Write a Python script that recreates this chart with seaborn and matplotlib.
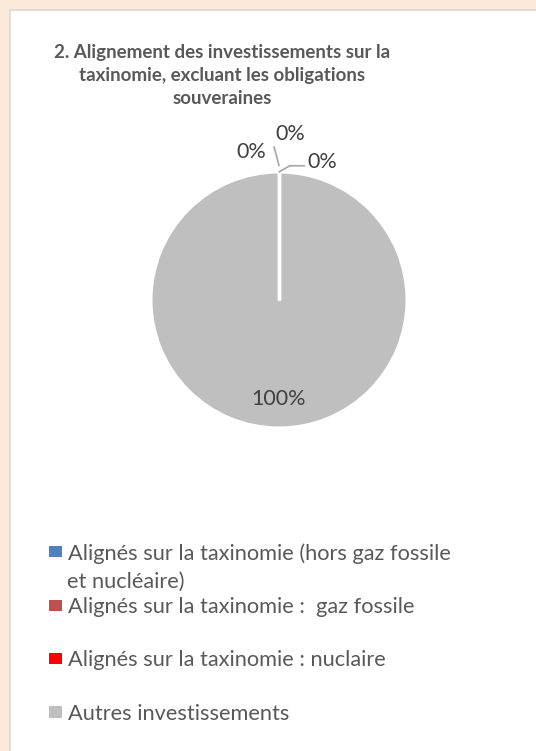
import matplotlib
matplotlib.use("Agg")
import matplotlib.pyplot as plt
import numpy as np
import seaborn as sns
from matplotlib.patches import Patch, Rectangle

# Data
categories = [
    "Alignés sur la taxinomie (hors gaz fossile",
    "Alignés sur la taxinomie :  gaz fossile",
    "Alignés sur la taxinomie : nuclaire",
    "Autres investissements",
]
values = [0, 0, 0, 100]
pct_labels = ["0%", "0%", "0%", "100%"]
colors = ["#4F81BD", "#C0504D", "#FF0000", "#BFBFBF"]
title = "2. Alignement des investissements sur la\ntaxinomie, excluant les obligations\nsouveraines"

sns.set_theme(style="white")
plt.rcParams["font.family"] = ["Lato", "DejaVu Sans"]
text_col = "#595959"

W, H = 536, 751
fig = plt.figure(figsize=(W / 100, H / 100), dpi=100)
fig.patch.set_facecolor("#FBE9D9")

# white panel
fig.patches.append(Rectangle((10 / W, -0.01), 1.0, 1 - 10 / H + 0.01,
                             transform=fig.transFigure, facecolor="white",
                             edgecolor="#D9D9D9", linewidth=1.2, zorder=-5))

fig.text(222 / W, 1 - 44 / H, title, ha="center", va="top", fontsize=13.5,
         fontweight="bold", color=text_col, linespacing=1.42)

# pie axes: centre (279, 300), radius 128 px
r = 128
lim = 1.6
side = 2 * lim * r
ax = fig.add_axes([(279 - side / 2) / W, (H - 300 - side / 2) / H, side / W, side / H])
wedges, _ = ax.pie(values, colors=colors, startangle=90, counterclock=False,
                   wedgeprops=dict(edgecolor="white", linewidth=2.2))
# zero-size slices only show as their white border
for w, v in zip(wedges, values):
    if v == 0:
        t = np.deg2rad(w.theta1)
        ax.plot([0, w.r * np.cos(t)], [0, w.r * np.sin(t)], color="white",
                lw=2.4, solid_capstyle="butt", zorder=3)
ax.set_xlim(-lim, lim)
ax.set_ylim(-lim, lim)
ax.axis("off")

lbl_kw = dict(fontsize=15.5, color="#404040", ha="center", va="center")
leader = dict(arrowstyle="-", color="#A6A6A6", lw=1.2, shrinkA=0, shrinkB=0)
# zero-slice labels around the top of the pie
ax.annotate(pct_labels[0], xy=(0, 1.0), xytext=(-0.22, 1.16), **lbl_kw)
ax.annotate(pct_labels[1], xy=(0, 1.05), xytext=(0.09, 1.30),
            arrowprops=dict(leader, relpos=(-0.1, 0.1)), **lbl_kw)
ax.annotate(pct_labels[2], xy=(0.0, 1.0), xytext=(0.34, 1.08),
            arrowprops=dict(leader, relpos=(-0.1, 0.3),
                            connectionstyle="angle,angleA=0,angleB=30,rad=0"),
            **lbl_kw)
ax.text(0, -0.77, pct_labels[3], **lbl_kw)

handles = [Patch(facecolor=c, edgecolor="none") for c in colors]
leg = fig.legend(handles, categories, loc="upper left",
                 bbox_to_anchor=(49 / W, 1 - 543 / H), frameon=False,
                 fontsize=15.7, labelcolor=text_col, handlelength=0.6,
                 handleheight=0.42, handletextpad=0.28, labelspacing=1.53,
                 borderpad=0, borderaxespad=0)
fig.text(67 / W, 1 - 582 / H, "et nucléaire)", fontsize=15.7, color=text_col,
         ha="left", va="center")

fig.savefig("out.png", dpi=100, facecolor=fig.get_facecolor())
